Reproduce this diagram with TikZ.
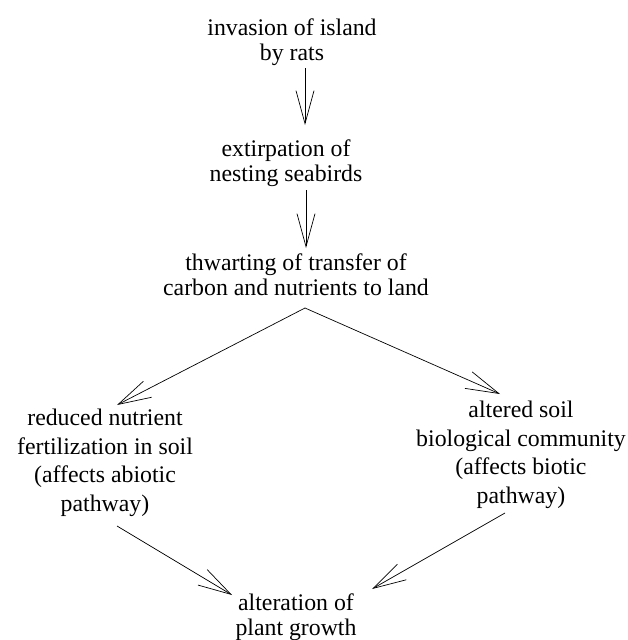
\documentclass[tikz,border=0pt]{standalone}
\usepackage{fontspec}
\setmainfont{Liberation Serif}
\usetikzlibrary{arrows.meta,calc}
\begin{document}
\begin{tikzpicture}[x=1pt,y=-1pt,
  lbl/.style={align=center,inner sep=0pt,outer sep=0pt,anchor=base,font=\fontsize{23.8}{24.5}\selectfont},
  side/.style={lbl,font=\fontsize{23.8}{28.5}\selectfont},
  arr/.style={-{Straight Barb[length=33pt,width=18pt]},line width=0.7pt}]
\useasboundingbox (0,0) rectangle (628,640);
% anchor=base is the baseline of the last line
\node[lbl] (n1) at (292,60) {invasion of island\\by rats};
\node[lbl] (n2) at (286,181) {extirpation of\\nesting seabirds};
\node[lbl] (n3) at (296,295) {thwarting of transfer of\\carbon and nutrients to land};
\node[side] (n4) at (105,511) {reduced nutrient\\fertilization in soil\\(affects abiotic\\pathway)};
\node[side] (n5) at (521,503) {altered soil\\biological community\\(affects biotic\\pathway)};
\node[lbl] (n6) at (296,635) {alteration of\\plant growth};
\draw[arr] ($(n1.base)+(13,8)$) -- ($(n2.base)+(19,-56)$);
\draw[arr] ($(n2.base)+(20,9)$) -- ($(n3.base)+(10,-47)$);
\draw[arr] ($(n3.base)+(9,13)$) -- ($(n4.base)+(12,-106)$);
\draw[arr] ($(n3.base)+(9,13)$) -- ($(n5.base)+(-21,-109)$);
\draw[arr] ($(n4.base)+(12,15)$) -- ($(n6.base)+(-64,-40)$);
\draw[arr] ($(n5.base)+(-16,10)$) -- ($(n6.base)+(76,-46)$);
\end{tikzpicture}
\end{document}
